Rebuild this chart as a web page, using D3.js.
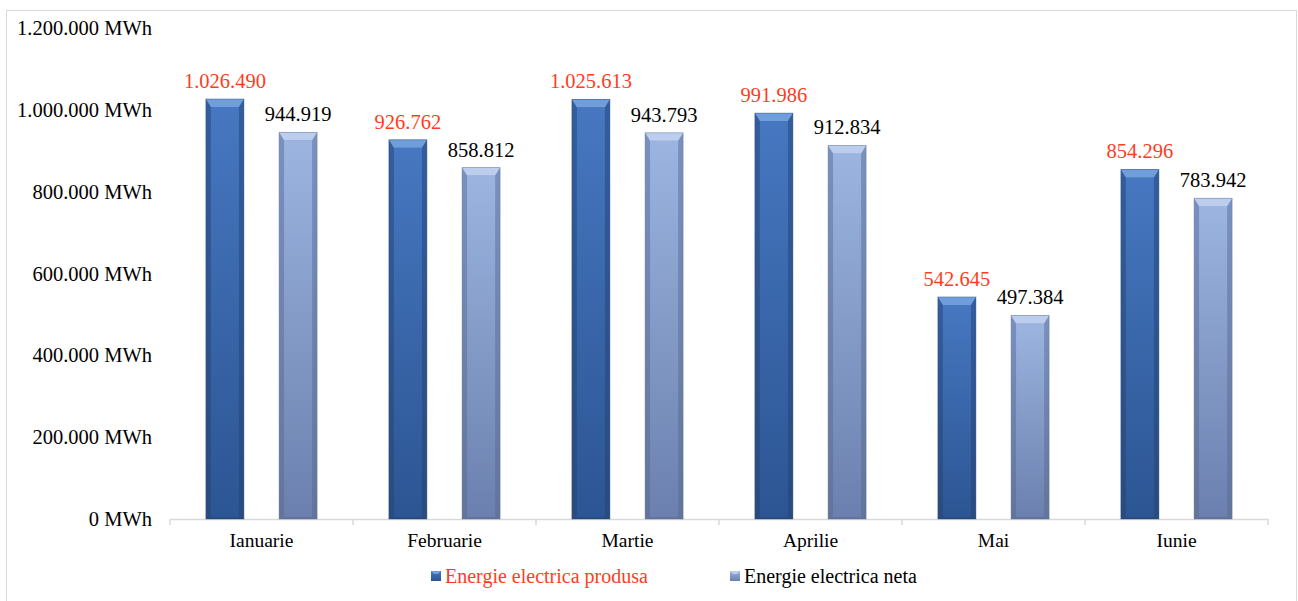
<!DOCTYPE html>
<html>
<head>
<meta charset="utf-8">
<script src="https://cdn.jsdelivr.net/npm/d3@7"></script>
<style>
  html, body { margin: 0; padding: 0; background: #fff; }
</style>
</head>
<body>
<svg id="chart" width="1298" height="601"></svg>
<script>
const months = ['Ianuarie', 'Februarie', 'Martie', 'Aprilie', 'Mai', 'Iunie'];
const series = ['Energie electrica produsa', 'Energie electrica neta'];
const produsa = [1026490, 926762, 1025613, 991986, 542645, 854296];
const neta = [944919, 858812, 943793, 912834, 497384, 783942];
const yTicks = [0, 200000, 400000, 600000, 800000, 1000000, 1200000];

const FONT = 'Liberation Serif, Times New Roman, serif';
const svg = d3.select('#chart').style('font-family', FONT);

const locale = d3.formatLocale({ decimal: ',', thousands: '.', grouping: [3], currency: ['', ''] });
const fmt = locale.format(',.0f');

// outer chart frame
svg.append('rect')
  .attr('x', 6.5).attr('y', 10.5)
  .attr('width', 1290).attr('height', 600)
  .attr('fill', '#fff').attr('stroke', '#d9d9d9');

const x = d3.scaleBand().domain(months).range([170, 1268]);
const xs = d3.scaleBand().domain(series).range([0, x.bandwidth()])
  .paddingInner(0.48).paddingOuter(0.49);
const y = d3.scaleLinear().domain([0, 1200000]).range([519, 28]);

const defs = svg.append('defs');
const palette = [
  { face: ['#4677c0', '#2c5593'], top: '#6f9edb', side: '#335d9c' },
  { face: ['#9bb4e0', '#6b80ae'], top: '#bccdee', side: '#7a90bf' }
];
palette.forEach((p, i) => {
  const g = defs.append('linearGradient').attr('id', 'face' + i)
    .attr('x1', 0).attr('y1', 0).attr('x2', 0).attr('y2', 1);
  g.append('stop').attr('offset', '0%').attr('stop-color', p.face[0]);
  g.append('stop').attr('offset', '100%').attr('stop-color', p.face[1]);
  const s = defs.append('linearGradient').attr('id', 'side' + i)
    .attr('x1', 0).attr('y1', 0).attr('x2', 0).attr('y2', 1);
  s.append('stop').attr('offset', '0%').attr('stop-color', p.side);
  s.append('stop').attr('offset', '100%').attr('stop-color', d3.color(p.side).darker(0.6));
});

// y axis labels
svg.append('g')
  .attr('transform', 'translate(170,0)')
  .call(d3.axisLeft(y).tickValues(yTicks).tickSize(0).tickPadding(18)
    .tickFormat(d => fmt(d) + ' MWh'))
  .call(g => g.select('.domain').remove())
  .call(g => g.selectAll('text').style('font-family', FONT).style('font-size', '20.5px').attr('fill', '#000'));

// x axis
svg.append('g')
  .attr('transform', 'translate(0,519)')
  .call(d3.axisBottom(x).tickSize(0).tickPadding(14))
  .call(g => g.select('.domain').attr('stroke', '#d9d9d9').attr('stroke-width', 1.5))
  .call(g => g.selectAll('text').style('font-family', FONT).style('font-size', '19.5px').attr('fill', '#000'));

const bounds = months.map(m => x(m)).concat([x.range()[1]]);
svg.append('g').selectAll('line').data(bounds).join('line')
  .attr('x1', d => d).attr('x2', d => d)
  .attr('y1', 519).attr('y2', 525)
  .attr('stroke', '#d9d9d9').attr('stroke-width', 1.5);

// bars
const rows = [];
months.forEach((m, i) => {
  rows.push({ m, s: 0, v: produsa[i] });
  rows.push({ m, s: 1, v: neta[i] });
});

const bar = svg.append('g').selectAll('g').data(rows).join('g');
const bv = 8;
bar.each(function (d) {
  const g = d3.select(this);
  const bx = x(d.m) + xs(series[d.s]);
  const bw = xs.bandwidth();
  const by = y(d.v);
  const bh = y(0) - by;
  const p = palette[d.s];
  g.append('rect').attr('x', bx).attr('y', by).attr('width', bw).attr('height', bh)
    .attr('fill', `url(#side${d.s})`);
  g.append('rect').attr('x', bx + 5).attr('y', by + bv).attr('width', bw - 10).attr('height', bh - bv - 2)
    .attr('fill', `url(#face${d.s})`);
  g.append('polygon')
    .attr('points', [[bx, by], [bx + bw, by], [bx + bw - 5, by + bv], [bx + 5, by + bv]].map(q => q.join(',')).join(' '))
    .attr('fill', p.top);
  g.append('rect').attr('x', bx).attr('y', by).attr('width', bw).attr('height', bh)
    .attr('fill', 'none').attr('stroke', d3.color(p.face[1]).darker(0.4)).attr('stroke-opacity', 0.5).attr('stroke-width', 0.8);
});

// value labels
svg.append('g').selectAll('text').data(rows).join('text')
  .attr('x', d => x(d.m) + xs(series[d.s]) + xs.bandwidth() / 2)
  .attr('y', d => y(d.v) - 11)
  .attr('text-anchor', 'middle')
  .style('font-family', FONT)
  .style('font-size', '20.5px')
  .attr('fill', d => d.s === 0 ? '#ff3c1e' : '#000')
  .text(d => fmt(d.v));

// legend
const legendItems = [
  { name: series[0], x: 431, color: '#ff3c1e' },
  { name: series[1], x: 730, color: '#000' }
];
const lg = svg.append('g').selectAll('g').data(legendItems).join('g')
  .attr('transform', d => `translate(${d.x},571)`);
lg.append('rect').attr('width', 10).attr('height', 10)
  .attr('fill', (d, i) => `url(#face${i})`);
lg.append('polygon').attr('points', '0,0 10,0 7,3 3,3')
  .attr('fill', (d, i) => palette[i].top);
lg.append('text').attr('x', 14).attr('y', 12)
  .style('font-family', FONT).style('font-size', '20px')
  .attr('fill', d => d.color)
  .text(d => d.name);
</script>
</body>
</html>
